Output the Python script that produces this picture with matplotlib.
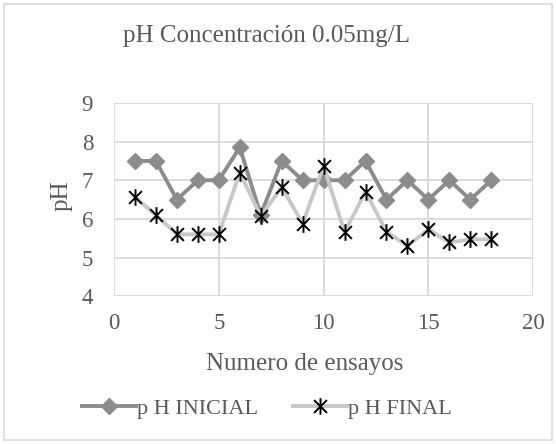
import numpy as np
import matplotlib.pyplot as plt
from matplotlib.path import Path

# --------------------------------
# data
# --------------------------------
ensayos = list(range(1, 19))
ph_inicial = [7.5, 7.5, 6.5, 7.0, 7.0, 7.85, 6.1, 7.5, 7.0,
              7.0, 7.0, 7.5, 6.5, 7.0, 6.5, 7.0, 6.5, 7.0]
ph_final = [6.56, 6.1, 5.6, 5.6, 5.6, 7.2, 6.07, 6.82, 5.88,
            7.37, 5.66, 6.7, 5.67, 5.3, 5.73, 5.39, 5.47, 5.47]

x_ticks = [0, 5, 10, 15, 20]
y_ticks = [4, 5, 6, 7, 8, 9]

txt = "#595959"
plt.rcParams["font.family"] = ["Liberation Serif", "DejaVu Serif"]

# excel style star: X with a vertical bar
star = Path([(-1, -1), (1, 1), (-1, 1), (1, -1), (0, -1.3), (0, 1.3)],
            [Path.MOVETO, Path.LINETO, Path.MOVETO, Path.LINETO,
             Path.MOVETO, Path.LINETO])

fig = plt.figure(figsize=(5.56, 4.44), dpi=100)
ax = fig.add_axes([0.205, 0.333, 0.754, 0.435])

ax.plot(ensayos, ph_inicial, color="#8c8c8c", lw=2.8, marker="D",
        ms=8, mfc="#8c8c8c", mec="#8c8c8c", label="p H INICIAL", zorder=3)
ax.plot(ensayos, ph_final, color="#c8c8c8", lw=2.8, marker=star,
        ms=12, mec="black", mew=1.4, label="p H FINAL", zorder=4)

ax.set_xlim(0, 20)
ax.set_ylim(4, 9)
ax.set_xticks(x_ticks)
ax.set_yticks(y_ticks)
ax.grid(True, color="#d9d9d9", lw=1.3)
ax.set_axisbelow(True)
for s in ax.spines.values():
    s.set_visible(False)
ax.tick_params(length=0, labelsize=16.5, labelcolor=txt)
ax.tick_params(axis="x", pad=12)
ax.tick_params(axis="y", pad=15)

ax.set_xlabel("Numero de ensayos", fontsize=18, color=txt)
ax.xaxis.set_label_coords(0.455, -0.295)
ax.set_ylabel("pH", fontsize=18, color=txt)
ax.yaxis.set_label_coords(-0.098, 0.52)
fig.text(0.479, 0.919, "pH Concentración 0.05mg/L", fontsize=18,
         color=txt, ha="center", va="center")

ax.legend(loc="center", bbox_to_anchor=(0.48, 0.079),
          bbox_transform=fig.transFigure, ncol=2, frameon=False,
          fontsize=16, labelcolor=txt, handlelength=2.4,
          handletextpad=0.05, columnspacing=1.6)

# outer chart border
fig.patches.append(plt.Rectangle((0.008, 0.008), 0.984, 0.984,
                                 transform=fig.transFigure, fill=False,
                                 edgecolor="#d9d9d9", lw=1.2))

fig.savefig("out.png", dpi=100)
